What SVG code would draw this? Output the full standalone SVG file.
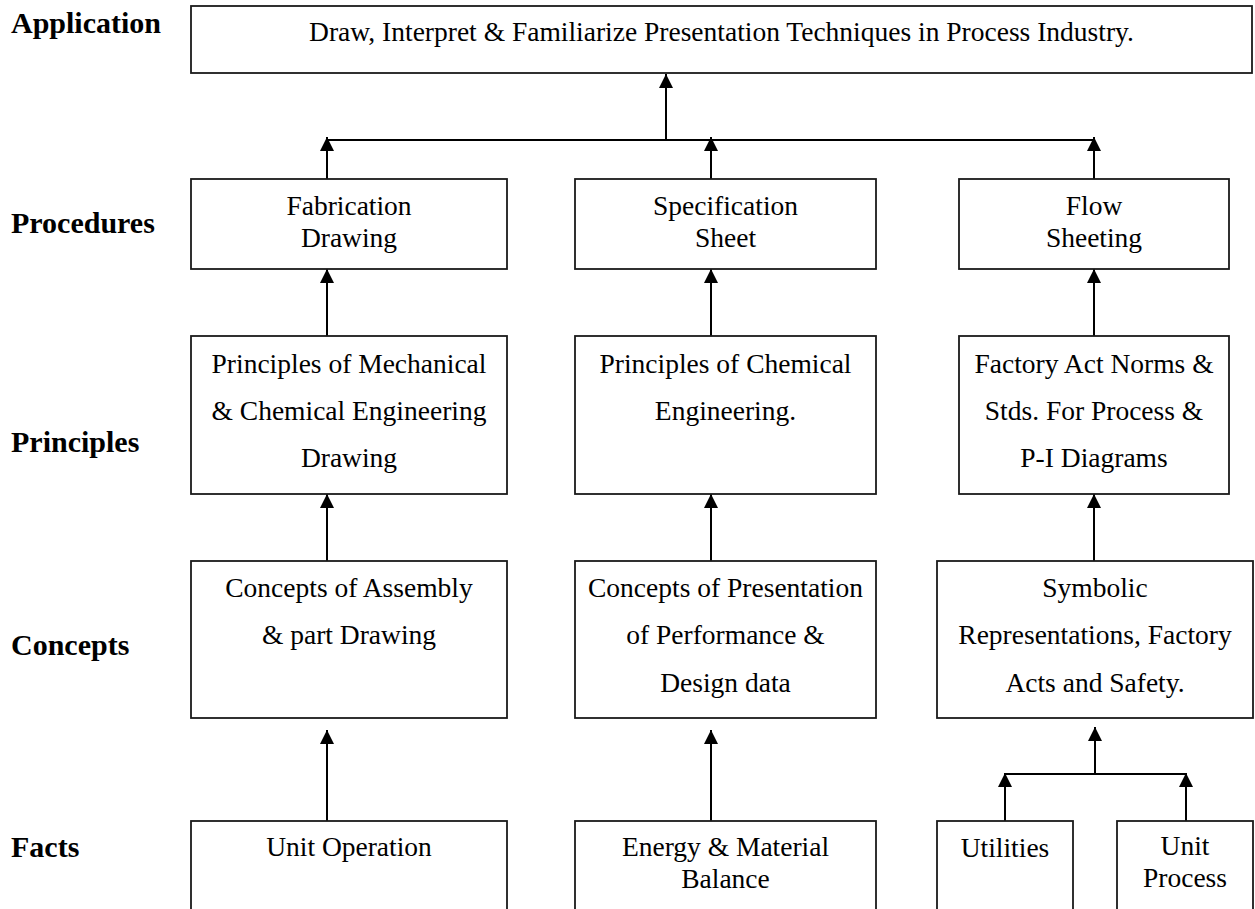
<svg xmlns="http://www.w3.org/2000/svg" width="1255" height="909" viewBox="0 0 1255 909">
  <style>
    .box { fill: #ffffff; stroke: #1a1a1a; stroke-width: 1.8; }
    .txt { font-family: "Liberation Serif", "Times New Roman", serif; font-size: 27.5px; fill: #000000; text-anchor: middle; }
    .lvl { font-family: "Liberation Serif", "Times New Roman", serif; font-size: 30px; font-weight: bold; fill: #000000; }
    .wire { fill: none; stroke: #000000; stroke-width: 2; }
    .arr { fill: none; stroke: #000000; stroke-width: 2; marker-end: url(#head); }
  </style>
  <defs>
    <marker id="head" markerUnits="userSpaceOnUse" markerWidth="14" markerHeight="14" refX="14" refY="7" orient="auto">
      <path d="M0,0 L14,7 L0,14 z" fill="#000000"/>
    </marker>
  </defs>
  <rect width="1255" height="909" fill="#ffffff"/>

  <!-- level labels -->
  <g id="levels">
    <text class="lvl" x="11" y="33">Application</text>
    <text class="lvl" x="11" y="233">Procedures</text>
    <text class="lvl" x="11" y="452">Principles</text>
    <text class="lvl" x="11" y="655">Concepts</text>
    <text class="lvl" x="11" y="857">Facts</text>
  </g>

  <!-- connectors -->
  <g id="connectors">
    <path class="arr" d="M666,140 V74"/>
    <path class="wire" d="M327,140 H1094"/>
    <path class="arr" d="M327,179 V137"/>
    <path class="arr" d="M711,179 V137"/>
    <path class="arr" d="M1094,179 V137"/>
    <path class="arr" d="M327,336 V269"/>
    <path class="arr" d="M711,336 V269"/>
    <path class="arr" d="M1094,336 V269"/>
    <path class="arr" d="M327,561 V494"/>
    <path class="arr" d="M711,561 V494"/>
    <path class="arr" d="M1094,561 V494"/>
    <path class="arr" d="M327,821 V730"/>
    <path class="arr" d="M711,821 V730"/>
    <path class="wire" d="M1005,774 H1186"/>
    <path class="arr" d="M1005,821 V773"/>
    <path class="arr" d="M1186,821 V773"/>
    <path class="arr" d="M1095,774 V727"/>
  </g>

  <!-- application -->
  <g id="n-application">
    <rect class="box" x="191" y="6" width="1061" height="67"/>
    <text class="txt" x="721.5" y="41">Draw, Interpret &amp; Familiarize Presentation Techniques in Process Industry.</text>
  </g>

  <!-- procedures -->
  <g id="n-fabrication">
    <rect class="box" x="191" y="179" width="316" height="90"/>
    <text class="txt" x="349" y="215">Fabrication</text>
    <text class="txt" x="349" y="247">Drawing</text>
  </g>
  <g id="n-specification">
    <rect class="box" x="575" y="179" width="301" height="90"/>
    <text class="txt" x="725.5" y="215">Specification</text>
    <text class="txt" x="725.5" y="247">Sheet</text>
  </g>
  <g id="n-flowsheeting">
    <rect class="box" x="959" y="179" width="270" height="90"/>
    <text class="txt" x="1094" y="215">Flow</text>
    <text class="txt" x="1094" y="247">Sheeting</text>
  </g>

  <!-- principles -->
  <g id="n-mech-principles">
    <rect class="box" x="191" y="336" width="316" height="158"/>
    <text class="txt" x="349" y="373">Principles of Mechanical</text>
    <text class="txt" x="349" y="420">&amp; Chemical Engineering</text>
    <text class="txt" x="349" y="467">Drawing</text>
  </g>
  <g id="n-chem-principles">
    <rect class="box" x="575" y="336" width="301" height="158"/>
    <text class="txt" x="725.5" y="373">Principles of Chemical</text>
    <text class="txt" x="725.5" y="420">Engineering.</text>
  </g>
  <g id="n-factory-norms">
    <rect class="box" x="959" y="336" width="270" height="158"/>
    <text class="txt" x="1094" y="373">Factory Act Norms &amp;</text>
    <text class="txt" x="1094" y="420">Stds. For Process &amp;</text>
    <text class="txt" x="1094" y="467">P-I Diagrams</text>
  </g>

  <!-- concepts -->
  <g id="n-assembly">
    <rect class="box" x="191" y="561" width="316" height="157"/>
    <text class="txt" x="349" y="597">Concepts of Assembly</text>
    <text class="txt" x="349" y="644">&amp; part Drawing</text>
  </g>
  <g id="n-presentation">
    <rect class="box" x="575" y="561" width="301" height="157"/>
    <text class="txt" x="725.5" y="597">Concepts of Presentation</text>
    <text class="txt" x="725.5" y="644">of Performance &amp;</text>
    <text class="txt" x="725.5" y="692">Design data</text>
  </g>
  <g id="n-symbolic">
    <rect class="box" x="937" y="561" width="316" height="157"/>
    <text class="txt" x="1095" y="597">Symbolic</text>
    <text class="txt" x="1095" y="644">Representations, Factory</text>
    <text class="txt" x="1095" y="692">Acts and Safety.</text>
  </g>

  <!-- facts -->
  <g id="n-unit-operation">
    <rect class="box" x="191" y="821" width="316" height="100"/>
    <text class="txt" x="349" y="856">Unit Operation</text>
  </g>
  <g id="n-energy-balance">
    <rect class="box" x="575" y="821" width="301" height="100"/>
    <text class="txt" x="725.5" y="856">Energy &amp; Material</text>
    <text class="txt" x="725.5" y="888">Balance</text>
  </g>
  <g id="n-utilities">
    <rect class="box" x="937" y="821" width="136" height="100"/>
    <text class="txt" x="1005" y="857">Utilities</text>
  </g>
  <g id="n-unit-process">
    <rect class="box" x="1117" y="821" width="136" height="100"/>
    <text class="txt" x="1185" y="855">Unit</text>
    <text class="txt" x="1185" y="887">Process</text>
  </g>
</svg>
